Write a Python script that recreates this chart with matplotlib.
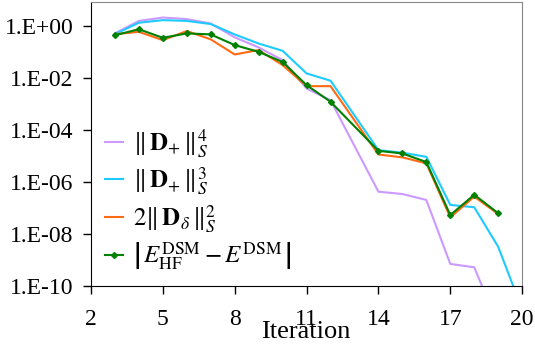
import numpy as np
import matplotlib
matplotlib.use("Agg")
import matplotlib.pyplot as plt
from matplotlib.ticker import FixedLocator, FuncFormatter

plt.rcParams['font.family'] = 'serif'
plt.rcParams['font.serif'] = ['Liberation Serif', 'TeX Gyre Termes', 'STIXGeneral', 'DejaVu Serif']
plt.rcParams['mathtext.fontset'] = 'stix'

# iterations (13 is missing in the original data)
iters = [3, 4, 5, 6, 7, 8, 9, 10, 11, 12, 14, 15, 16, 17, 18, 19, 20]

# log10 values
log_d4 = [-0.28, 0.20, 0.33, 0.27, 0.10, -0.43, -0.82, -1.31, -2.40, -2.85,
          -6.37, -6.46, -6.69, -9.15, -9.28, -11.5, np.nan]
log_d3 = [-0.31, 0.13, 0.23, 0.20, 0.08, -0.32, -0.67, -0.95, -1.82, -2.10,
          -4.77, -4.87, -5.03, -6.88, -6.97, -8.49, -10.9]
log_dd2 = [-0.31, -0.22, -0.54, -0.19, -0.51, -1.09, -0.92, -1.50, -2.31, -2.31,
           -4.94, -5.05, -5.28, -7.36, -6.56, -7.23, np.nan]
log_de = [-0.35, -0.12, -0.45, -0.28, -0.32, -0.73, -0.99, -1.38, -2.27, -2.91,
          -4.80, -4.90, -5.23, -7.27, -6.49, -7.20, np.nan]

labels = [r'$\Vert\,\mathbf{D}_{+}\,\Vert_S^4$',
          r'$\Vert\,\mathbf{D}_{+}\,\Vert_S^3$',
          r'$2\Vert\,\mathbf{D}_{\delta}\,\Vert_S^2$',
          r'$\left|\,E_{\mathrm{HF}}^{\mathrm{DSM}}-E^{\mathrm{DSM}}\,\right|$']
colors = ['#CC99FF', '#1ECBFF', '#FF6A13', '#008000']

fig = plt.figure(figsize=(5.35, 3.49), dpi=100)
ax = fig.add_axes([0.170, 0.1805, 0.806, 0.8135])

x = np.array(iters)
ax.plot(x, 10 ** np.array(log_d4), color=colors[0], lw=1.5, label=labels[0])
ax.plot(x, 10 ** np.array(log_d3), color=colors[1], lw=1.5, label=labels[1])
ax.plot(x, 10 ** np.array(log_dd2), color=colors[2], lw=1.5, label=labels[2])
ax.plot(x, 10 ** np.array(log_de), color=colors[3], lw=1.5, marker='D',
        markersize=3, label=labels[3])

ax.set_yscale('log')
ax.set_ylim(1e-10, 8.4)
ax.set_xlim(2, 20)
ax.yaxis.set_major_locator(FixedLocator([1e0, 1e-2, 1e-4, 1e-6, 1e-8, 1e-10]))
ax.yaxis.set_minor_locator(FixedLocator([]))
ax.yaxis.set_major_formatter(FuncFormatter(lambda v, p: '1.E%+03d' % round(np.log10(v))))
ax.set_xticks([2, 5, 8, 11, 14, 17, 20])
ax.tick_params(direction='out', length=5.5, width=1, labelsize=17)
ax.tick_params(axis='y', pad=7)
ax.tick_params(axis='x', pad=11)

for s in ['top', 'right']:
    ax.spines[s].set_color('#888888')
for s in ['left', 'bottom']:
    ax.spines[s].set_color('black')

# x label sits low and overlaps the tick labels, as in the original
fig.text(306 / 535, 1 - 332 / 349, 'Iteration', fontsize=19, ha='center', va='center')

ax.legend(loc='upper left', bbox_to_anchor=(0.01, 0.595), frameon=False,
          fontsize=18, handlelength=0.7, handletextpad=0.4, labelspacing=0.25,
          borderaxespad=0)

fig.savefig('out.png', dpi=100)
